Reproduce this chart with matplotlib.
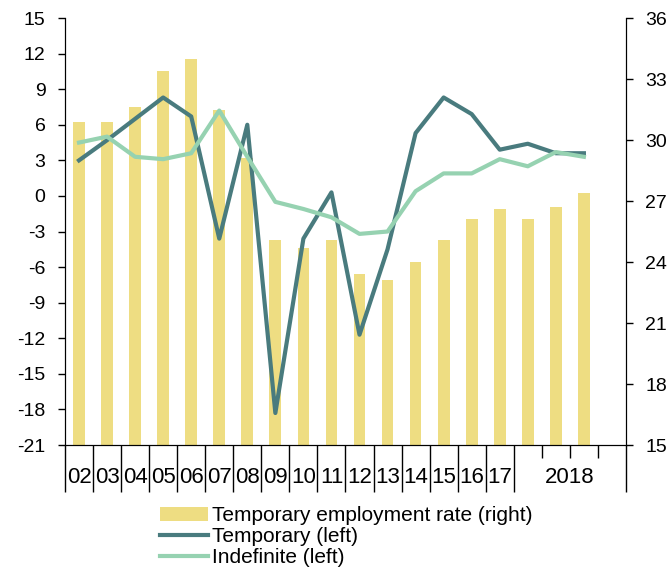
import numpy as np
import matplotlib.pyplot as plt
import matplotlib.transforms as mtransforms

plt.rcParams['font.family'] = ['Liberation Sans', 'DejaVu Sans']
plt.rcParams['axes.unicode_minus'] = False

# year labels (2002-2017 annual, then 2018 quarters)
year_labels = ['02', '03', '04', '05', '06', '07', '08', '09', '10', '11',
               '12', '13', '14', '15', '16', '17']
last_label = '2018'

# temporary employment rate, % (right axis)
temp_rate = [30.9, 30.9, 31.6, 33.4, 34.0, 31.5, 29.1, 25.1, 24.7, 25.1,
             23.4, 23.1, 24.0, 25.1, 26.1, 26.6, 26.1, 26.7, 27.4]

# employment growth, % (left axis)
temporary = [3.0, 4.7, 6.5, 8.3, 6.7, -3.6, 6.0, -18.3, -3.6, 0.3,
             -11.7, -4.5, 5.3, 8.3, 6.9, 3.9, 4.4, 3.6, 3.6]
indefinite = [4.5, 5.0, 3.3, 3.1, 3.6, 7.2, 3.3, -0.5, -1.1, -1.8,
              -3.2, -3.0, 0.4, 1.9, 1.9, 3.1, 2.5, 3.7, 3.3]

bar_color = '#EEDD82'
dark_color = '#497B7E'
light_color = '#96D2B1'

x = np.arange(len(temp_rate))

fig = plt.figure(figsize=(6.72, 5.74), dpi=100)
ax = fig.add_axes([0.0967, 0.2247, 0.8348, 0.7439])
ax2 = ax.twinx()

ax.bar(x, temp_rate, width=0.42, color=bar_color,
       label='Temporary employment rate (right)')
ax.set_ylim(15, 36)
ax.set_yticks(range(15, 37, 3))
ax.yaxis.tick_right()
ax.set_xlim(-0.5, 19.5)

ax2.plot(x, temporary, color=dark_color, lw=3, label='Temporary (left)')
ax2.plot(x, indefinite, color=light_color, lw=3, label='Indefinite (left)')
ax2.set_ylim(-21, 15)
ax2.set_yticks(range(-21, 16, 3))
ax2.yaxis.tick_left()

for a in (ax, ax2):
    a.spines['top'].set_visible(False)
    a.spines['left'].set_visible(True)
    a.spines['right'].set_visible(True)
    a.tick_params(axis='y', direction='out', length=5, width=1, labelsize=14, pad=9)

# x axis: long separators between years, short ticks for quarters
ax.set_xticks(np.arange(-0.5, 16, 1).tolist() + [19.5])
ax.set_xticklabels([])
ax.set_xticks([16.5, 17.5, 18.5], minor=True)
ax.tick_params(axis='x', which='major', direction='out', length=34, width=1)
ax.tick_params(axis='x', which='minor', direction='out', length=9, width=1)

trans = mtransforms.blended_transform_factory(ax.transData, ax.transAxes)
for i, lab in enumerate(year_labels):
    ax.text(i, -0.077, lab, transform=trans, ha='center', va='center', fontsize=16)
ax.text(17.5, -0.077, last_label, transform=trans, ha='center', va='center', fontsize=16)

handles = ax.get_legend_handles_labels()[0] + ax2.get_legend_handles_labels()[0]
labels = ax.get_legend_handles_labels()[1] + ax2.get_legend_handles_labels()[1]
fig.legend(handles, labels, loc='upper left', bbox_to_anchor=(0.238, 0.118),
           frameon=False, fontsize=15, borderpad=0, borderaxespad=0,
           handlelength=2.3, handletextpad=0.2, labelspacing=0.1)

fig.savefig('out.png', dpi=100)
